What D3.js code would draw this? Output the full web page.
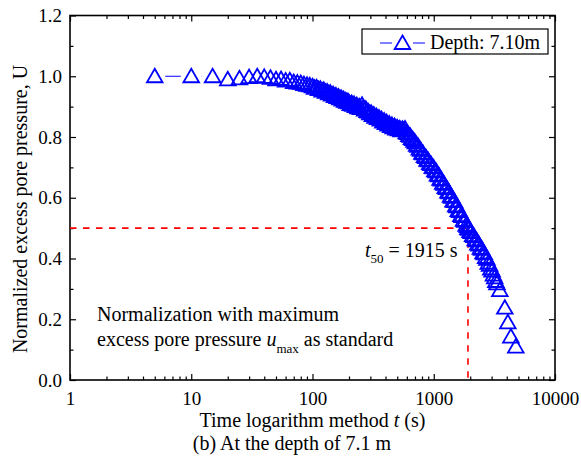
<!DOCTYPE html>
<html>
<head>
<meta charset="utf-8">
<script src="https://cdn.jsdelivr.net/npm/d3@7"></script>
<style>
  body { margin: 0; background: #fff; }
  svg text { font-family: "Liberation Serif", "Times New Roman", serif; fill: #000; }
</style>
</head>
<body>
<div id="chart"></div>
<script>
// Elapsed time (s) and normalized excess pore pressure U
const timeSec = [
  5, 10, 15, 20, 25, 30, 35, 40, 45,
  50, 55, 60, 65, 70, 75, 80, 85, 90, 95,
  100, 104, 108, 112, 116, 120, 124, 128, 132, 136,
  140, 144, 148, 152, 156, 160, 164, 168, 172, 176,
  180, 184, 188, 192, 196,
  200, 205, 210, 215, 220, 226, 232, 237, 243, 249,
  256, 262, 269, 275, 282, 289, 297, 304, 312, 320,
  328, 336, 344, 353, 362, 371, 380, 390, 399, 409,
  420, 430, 441, 452, 463, 475, 487, 499, 511, 524,
  537, 551, 565, 579, 593, 608, 623, 639, 655, 671,
  688, 705, 723, 741, 760, 779, 798, 818, 839, 860,
  881, 903, 926, 949, 973, 997, 1022, 1048, 1074, 1101,
  1128, 1156, 1185, 1215, 1245, 1277, 1309, 1341, 1375, 1409,
  1444, 1481, 1518, 1556, 1594, 1634, 1675, 1717, 1760, 1804,
  1849, 1895, 1915, 1942, 1991, 2041, 2092, 2144, 2198, 2253,
  2309, 2367, 2426, 2487, 2549, 2613, 2678, 2745, 2814, 2884,
  2956, 3030, 3106, 3184, 3250, 3320,
  3508, 3856, 4083, 4325, 4750
];
const normU = [
  1.000, 1.000, 1.000, 0.990, 0.993, 0.997, 1.000, 0.998, 0.995,
  0.990, 0.991, 0.986, 0.987, 0.981, 0.979, 0.978, 0.974, 0.972, 0.970,
  0.967, 0.962, 0.964, 0.958, 0.959, 0.953, 0.955, 0.949, 0.950, 0.944,
  0.946, 0.940, 0.941, 0.935, 0.937, 0.931, 0.933, 0.927, 0.929, 0.923,
  0.925, 0.919, 0.921, 0.916, 0.918,
  0.914, 0.908, 0.912, 0.906, 0.909, 0.902, 0.905, 0.898, 0.901, 0.895,
  0.906, 0.896, 0.890, 0.893, 0.885, 0.884, 0.878, 0.880, 0.872, 0.874,
  0.866, 0.869, 0.862, 0.864, 0.857, 0.859, 0.851, 0.854, 0.846, 0.849,
  0.841, 0.844, 0.836, 0.840, 0.832, 0.836, 0.828, 0.832, 0.825, 0.829,
  0.822, 0.827, 0.823, 0.828, 0.815, 0.813, 0.806, 0.804, 0.796, 0.793,
  0.787, 0.782, 0.774, 0.771, 0.762, 0.758, 0.748, 0.746, 0.737, 0.734,
  0.725, 0.723, 0.714, 0.711, 0.702, 0.700, 0.690, 0.687, 0.676, 0.674,
  0.662, 0.660, 0.649, 0.646, 0.635, 0.632, 0.620, 0.618, 0.606, 0.603,
  0.591, 0.589, 0.575, 0.572, 0.559, 0.556, 0.543, 0.540, 0.527, 0.524,
  0.511, 0.507, 0.500, 0.498, 0.490, 0.487, 0.477, 0.474, 0.463, 0.460,
  0.449, 0.446, 0.435, 0.432, 0.420, 0.417, 0.405, 0.399, 0.386, 0.379,
  0.367, 0.360, 0.347, 0.338, 0.326, 0.318,
  0.296, 0.238, 0.190, 0.143, 0.110
];

// Axis ticks
const xMajorTicks = [1, 10, 100, 1000, 10000];
const xMinorTicks = [2, 3, 4, 5, 6, 7, 8, 9, 20, 30, 40, 50, 60, 70, 80, 90,
  200, 300, 400, 500, 600, 700, 800, 900, 2000, 3000, 4000, 5000, 6000, 7000, 8000, 9000];
const yMajorTicks = [0.0, 0.2, 0.4, 0.6, 0.8, 1.0, 1.2];
const yMinorTicks = [0.1, 0.3, 0.5, 0.7, 0.9, 1.1];

// t50 reading
const t50 = 1915;
const uHalf = 0.5;

const seriesName = 'Depth: 7.10m';

//////////////////////////////////////////////////////////////////////
// Helpers
//////////////////////////////////////////////////////////////////////
const BLUE = '#0000ff';
const RED = '#ff0000';

function _triangle(g, cx, cy) {
    g.append('path')
        .attr('d', `M${cx},${cy - 7.5}L${cx + 7.8},${cy + 6}L${cx - 7.8},${cy + 6}Z`)
        .attr('fill', 'none')
        .attr('stroke', BLUE)
        .attr('stroke-width', 1.8)
        .attr('stroke-linejoin', 'miter');
}

// connecting line with a gap around each marker
function _gapSegment(g, x1, y1, x2, y2, gap) {
    const dx = x2 - x1, dy = y2 - y1;
    const len = Math.hypot(dx, dy);
    if (len <= 2 * gap) return;
    const ux = dx / len, uy = dy / len;
    g.append('line')
        .attr('x1', x1 + ux * gap).attr('y1', y1 + uy * gap)
        .attr('x2', x2 - ux * gap).attr('y2', y2 - uy * gap)
        .attr('stroke', BLUE)
        .attr('stroke-width', 1);
}

//////////////////////////////////////////////////////////////////////
// Draw
//////////////////////////////////////////////////////////////////////
function drawChart() {
    const margin = {top: 15.5, right: 26, bottom: 83, left: 70};
    const W = 581, H = 463;
    const width = W - margin.left - margin.right;
    const height = H - margin.top - margin.bottom;

    const svg = d3.select('#chart')
        .append('svg')
        .attr('width', W)
        .attr('height', H);

    const g = svg.append('g')
        .attr('transform', `translate(${margin.left},${margin.top})`);

    const x = d3.scaleLog().domain([1, 10000]).range([0, width]);
    const y = d3.scaleLinear().domain([0, 1.2]).range([height, 0]);

    // Axes, ticks pointing inward on all four sides
    const axes = g.append('g').attr('class', 'axes');

    axes.append('g')
        .attr('transform', `translate(0,${height})`)
        .call(d3.axisBottom(x).tickValues(xMajorTicks).tickFormat(d3.format('d'))
            .tickSizeInner(-6).tickSizeOuter(0).tickPadding(12));
    axes.append('g')
        .attr('transform', `translate(0,${height})`)
        .call(d3.axisBottom(x).tickValues(xMinorTicks).tickFormat('')
            .tickSizeInner(-3.5).tickSizeOuter(0));
    axes.append('g')
        .call(d3.axisTop(x).tickValues(xMajorTicks).tickFormat('')
            .tickSizeInner(-6).tickSizeOuter(0));
    axes.append('g')
        .call(d3.axisTop(x).tickValues(xMinorTicks).tickFormat('')
            .tickSizeInner(-3.5).tickSizeOuter(0));

    axes.append('g')
        .call(d3.axisLeft(y).tickValues(yMajorTicks).tickFormat(d3.format('.1f'))
            .tickSizeInner(-6).tickSizeOuter(0).tickPadding(8));
    axes.append('g')
        .call(d3.axisLeft(y).tickValues(yMinorTicks).tickFormat('')
            .tickSizeInner(-3.5).tickSizeOuter(0));
    axes.append('g')
        .attr('transform', `translate(${width},0)`)
        .call(d3.axisRight(y).tickValues(yMajorTicks).tickFormat('')
            .tickSizeInner(-6).tickSizeOuter(0));
    axes.append('g')
        .attr('transform', `translate(${width},0)`)
        .call(d3.axisRight(y).tickValues(yMinorTicks).tickFormat('')
            .tickSizeInner(-3.5).tickSizeOuter(0));

    axes.selectAll('.domain').remove();
    axes.selectAll('.tick line').attr('stroke', '#000').attr('stroke-width', 1.2);
    axes.selectAll('.tick text')
        .attr('font-size', 19)
        .attr('fill', '#000');

    // frame
    g.append('rect')
        .attr('x', 0).attr('y', 0)
        .attr('width', width).attr('height', height)
        .attr('fill', 'none')
        .attr('stroke', '#000')
        .attr('stroke-width', 1.6);

    // t50 guide lines
    g.append('line')
        .attr('x1', 0).attr('x2', x(t50))
        .attr('y1', y(uHalf)).attr('y2', y(uHalf))
        .attr('stroke', RED).attr('stroke-width', 1.6)
        .attr('stroke-dasharray', '6.5,6.5');
    g.append('line')
        .attr('x1', x(t50)).attr('x2', x(t50))
        .attr('y1', y(uHalf)).attr('y2', height)
        .attr('stroke', RED).attr('stroke-width', 1.6)
        .attr('stroke-dasharray', '6.5,6.5');

    // series: line then open triangles
    const pts = timeSec.map((t, i) => [x(t), y(normU[i])]);
    const series = g.append('g').attr('class', 'series');
    for (let i = 1; i < pts.length; i++) {
        _gapSegment(series, pts[i - 1][0], pts[i - 1][1], pts[i][0], pts[i][1], 10.5);
    }
    pts.forEach(p => _triangle(series, p[0], p[1]));

    // legend
    const lg = g.append('g').attr('transform', `translate(${292},${13.5})`);
    lg.append('rect')
        .attr('x', 0).attr('y', 0)
        .attr('width', 186).attr('height', 25)
        .attr('fill', '#fff')
        .attr('stroke', '#000')
        .attr('stroke-width', 1.2);
    lg.append('line').attr('x1', 18).attr('x2', 30).attr('y1', 14).attr('y2', 14)
        .attr('stroke', BLUE).attr('stroke-width', 1);
    lg.append('line').attr('x1', 51).attr('x2', 63).attr('y1', 14).attr('y2', 14)
        .attr('stroke', BLUE).attr('stroke-width', 1);
    _triangle(lg, 40.5, 14);
    lg.append('text')
        .attr('x', 68).attr('y', 20)
        .attr('font-size', 20)
        .text(seriesName);

    // t50 annotation
    const tl = g.append('text')
        .attr('x', x(t50) - 103).attr('y', y(uHalf) + 28.5)
        .attr('font-size', 20);
    tl.append('tspan').attr('font-style', 'italic').text('t');
    tl.append('tspan').attr('font-size', 13).attr('dy', 6).text('50');
    tl.append('tspan').attr('dy', -6).text(' = 1915 s');

    // normalization note
    g.append('text')
        .attr('x', 27).attr('y', 305)
        .attr('font-size', 20)
        .text('Normalization with maximum');
    const note2 = g.append('text')
        .attr('x', 27).attr('y', 330)
        .attr('font-size', 20);
    note2.append('tspan').text('excess pore pressure ');
    note2.append('tspan').attr('font-style', 'italic').text('u');
    note2.append('tspan').attr('font-size', 13).attr('dy', 7).text('max');
    note2.append('tspan').attr('dy', -7).text(' as standard');

    // axis titles
    const xt = svg.append('text')
        .attr('x', margin.left + width / 2).attr('y', 427)
        .attr('text-anchor', 'middle')
        .attr('font-size', 20);
    xt.append('tspan').text('Time logarithm method ');
    xt.append('tspan').attr('font-style', 'italic').text('t');
    xt.append('tspan').text(' (s)');

    svg.append('text')
        .attr('transform', `translate(27,${209}) rotate(-90)`)
        .attr('text-anchor', 'middle')
        .attr('font-size', 20)
        .text('Normalized excess pore pressure, U');

    // caption
    svg.append('text')
        .attr('x', 292).attr('y', 450)
        .attr('text-anchor', 'middle')
        .attr('font-size', 20)
        .text('(b) At the depth of 7.1 m');
}

drawChart();
</script>
</body>
</html>
